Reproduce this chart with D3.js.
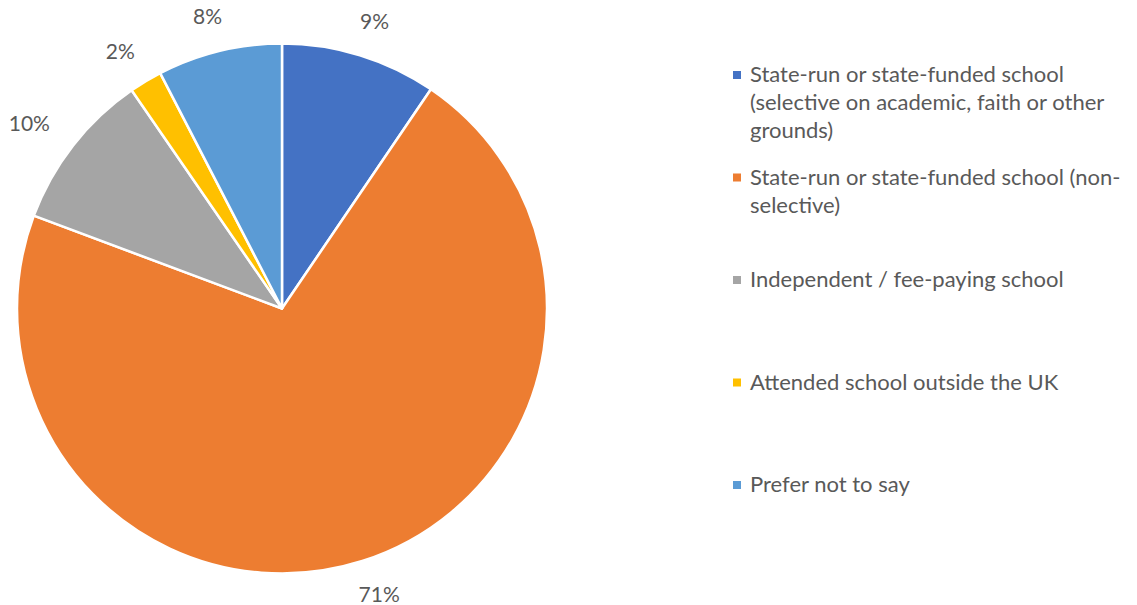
<!DOCTYPE html>
<html>
<head>
<meta charset="utf-8">
<script src="https://cdn.jsdelivr.net/npm/d3@7"></script>
<style>
  body { margin: 0; background: #fff; }
  text { font-family: Lato, "Open Sans", sans-serif; fill: #595959; }
</style>
</head>
<body>
<div id="chart"></div>
<script>
const categories = [
  "State-run or state-funded school (selective on academic, faith or other grounds)",
  "State-run or state-funded school (non-selective)",
  "Independent / fee-paying school",
  "Attended school outside the UK",
  "Prefer not to say"
]
const values = [9.5, 71.2, 9.7, 2.0, 7.6]
const pctLabels = ["9%", "71%", "10%", "2%", "8%"]
const colors = ["#4472C4", "#ED7D31", "#A5A5A5", "#FFC000", "#5B9BD5"]

const width = 1137
const height = 605
const cx = 282, cy = 308.5, radius = 265

const svg = d3.select("#chart")
  .append("svg")
  .attr("width", width)
  .attr("height", height)

const pie = d3.pie().sort(null).value(d => d)
const arcs = pie(values)

const arc = d3.arc().innerRadius(0).outerRadius(radius)
const labelArc = d3.arc().innerRadius(radius + 35).outerRadius(radius + 35)

const g = svg.append("g").attr("transform", `translate(${cx},${cy})`)

g.selectAll("path")
  .data(arcs)
  .join("path")
  .attr("d", arc)
  .attr("fill", (d, i) => colors[i])
  .attr("stroke", "#fff")
  .attr("stroke-width", 2.5)
  .attr("stroke-linejoin", "round")

g.selectAll("text.pct")
  .data(arcs)
  .join("text")
  .attr("class", "pct")
  .attr("text-anchor", "middle")
  .attr("dy", "0.35em")
  .style("font-size", "21px")
  .text((d, i) => pctLabels[i])
  .attr("transform", function (d) {
    const [x, y] = labelArc.centroid(d)
    const a = (d.startAngle + d.endAngle) / 2
    const w = this.getComputedTextLength()
    return `translate(${x + Math.sin(a) * w / 2},${y})`
  })

// legend
const legendX = 733
const legendY = 82
const step = 102.5
const lineH = 28
const maxW = 378

const legend = svg.append("g")

categories.forEach((cat, i) => {
  const y = legendY + i * step
  legend.append("rect")
    .attr("x", legendX)
    .attr("y", y - 11)
    .attr("width", 8)
    .attr("height", 8)
    .attr("fill", colors[i])

  const text = legend.append("text")
    .attr("x", legendX + 17)
    .attr("y", y)
    .style("font-size", "22px")

  // split after spaces and hyphens, then wrap
  const tokens = cat.match(/[^\s-]+-?|\s+/g).filter(t => t.trim() !== "")
  let lines = []
  let cur = ""
  const probe = text.append("tspan")
  tokens.forEach(tok => {
    const sep = cur === "" || cur.endsWith("-") ? "" : " "
    const test = cur + sep + tok
    probe.text(test)
    if (probe.node().getComputedTextLength() > maxW && cur !== "") {
      lines.push(cur)
      cur = tok
    } else {
      cur = test
    }
  })
  lines.push(cur)
  probe.remove()

  lines.forEach((ln, j) => {
    text.append("tspan")
      .attr("x", legendX + 17)
      .attr("y", y + j * lineH)
      .text(ln)
  })
})
</script>
</body>
</html>
